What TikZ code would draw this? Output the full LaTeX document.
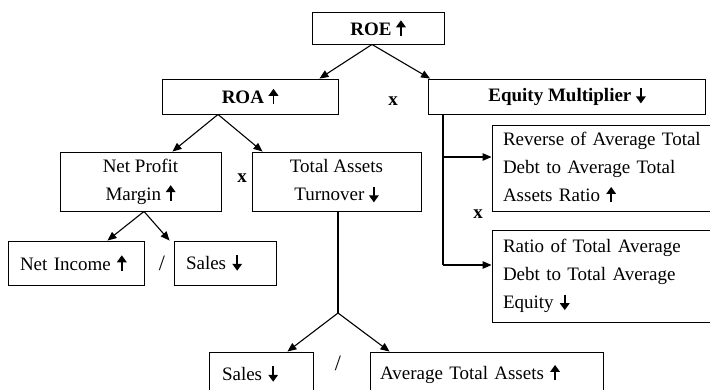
\documentclass[tikz,border=0pt]{standalone}
\usepackage{fontspec}
\setmainfont{Liberation Serif}
\usetikzlibrary{arrows.meta}

\newsavebox{\upbox}
\newsavebox{\dnbox}
\newcommand{\upar}{\usebox{\upbox}}
\newcommand{\dnar}{\usebox{\dnbox}}
\newcommand{\glypharrow}[2]{%
  \begin{pgfpicture}
    \pgfsetbaseline{0pt}
    \pgfsetlinewidth{1.9pt}
    \pgfsetarrowsend{Triangle[length=7pt, width=9.5pt]}
    \pgfpathmoveto{\pgfpoint{0pt}{#1}}
    \pgfpathlineto{\pgfpoint{0pt}{#2}}
    \pgfusepath{stroke}
  \end{pgfpicture}}

\begin{document}
\sbox{\upbox}{\glypharrow{-0.5pt}{15pt}}
\sbox{\dnbox}{\glypharrow{14pt}{-1.5pt}}
\begin{tikzpicture}[x=1pt, y=-1pt,
    box/.style={draw, line width=0.9pt, inner sep=0pt, font=\fontsize{19}{28}\selectfont},
    lbox/.style={box, align=left, inner xsep=#1, text width={\boxw-2*#1}},
    arr/.style={line width=1.1pt, -{Triangle[length=9pt, width=7.5pt]}},
    trunk/.style={line width=1.5pt},
    times/.style={font=\fontsize{19}{19}\selectfont\bfseries},
    over/.style={font=\fontsize{22}{22}\selectfont}]

    \useasboundingbox (0,0) rectangle (710,389);
    \clip (0,0) rectangle (710,389);

    \node[box, minimum width=132pt, minimum height=32pt] (roe) at (378,28) {\textbf{ROE \upar}};

    \node[box, minimum width=176pt, minimum height=35pt] (roa) at (250,96.5) {\textbf{ROA \upar}};
    \node[box, minimum width=277pt, minimum height=35pt] (em) at (567,96.5) {\textbf{Equity Multiplier \dnar}};
    \node[times] (x1) at (393,101) {x};

    \draw[arr] ([xshift=-6pt]roe.south) -- ([xshift=-19pt]roa.north east);
    \draw[arr] ([xshift=-6pt]roe.south) -- ([xshift=2pt]em.north west);

    \node[box, align=center, minimum width=161pt, minimum height=59pt] (npm) at (140.5,181.5) {Net Profit\\Margin \upar};
    \node[box, align=center, minimum width=169pt, minimum height=59pt] (tat) at (336.5,181.5) {Total Assets\\Turnover \dnar};
    \node[times] (x2) at (242,178) {x};

    \draw[arr] ([xshift=-32pt]roa.south) -- ([xshift=-49pt]npm.north east);
    \draw[arr] ([xshift=-32pt]roa.south) -- ([xshift=11pt]tat.north west);

    \def\boxw{136pt}
    \node[lbox=12pt, minimum height=44pt] (ni) at (76,263) {Net Income \upar};
    \def\boxw{102pt}
    \node[lbox=12pt, minimum height=44pt] (sa1) at (225,263) {Sales \dnar};
    \node[over] (d1) at (162,263) {/};

    \draw[arr] ([xshift=3.5pt]npm.south) -- ([xshift=-37pt]ni.north east);
    \draw[arr] ([xshift=3.5pt]npm.south) -- ([xshift=-4pt]sa1.north west);

    % lower branch of the turnover
    \coordinate (tatj) at ([xshift=1.5pt]tat.south |- 0,313);
    \draw[trunk] ([xshift=1.5pt]tat.south) -- (tatj);

    \def\boxw{104pt}
    \node[lbox=13pt, minimum height=44pt] (sa2) at (261,374) {Sales \dnar};
    \def\boxw{233pt}
    \node[lbox=10pt, minimum height=44pt] (ata) at (486.5,374) {Average Total Assets \upar};
    \node[over] (d2) at (338,363) {/};

    \draw[arr] (tatj) -- ([xshift=-26pt]sa2.north east);
    \draw[arr] (tatj) -- ([xshift=20pt]ata.north west);

    % equity multiplier split
    \def\boxw{222pt}
    \node[lbox=11pt, minimum height=86pt] (rev) at (603,168)
        {\makebox[\hsize][s]{Reverse of Average Total}\\\makebox[\hsize][s]{Debt to Average Total}\\Assets Ratio \upar};
    \node[lbox=11pt, minimum height=92pt] (dte) at (603,276)
        {\makebox[\hsize][s]{Ratio of Total Average}\\\makebox[\hsize][s]{Debt to Total Average}\\Equity \dnar};
    \node[times] (x3) at (478,214) {x};

    \coordinate (emj) at ([xshift=15pt]em.south west);
    \coordinate (revin) at ([yshift=11pt]rev.west);
    \coordinate (dtein) at ([yshift=11pt]dte.west);
    \draw[trunk] (emj) -- (emj |- dtein);
    \draw[arr] (emj |- revin) -- (revin);
    \draw[arr] (emj |- dtein) -- (dtein);

\end{tikzpicture}
\end{document}
